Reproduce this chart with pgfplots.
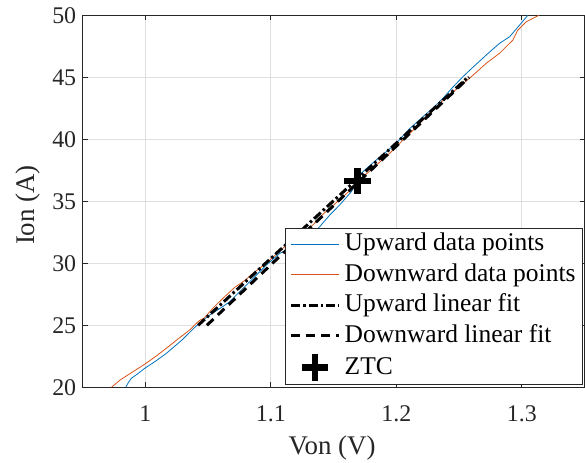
\documentclass[border=0pt]{standalone}
\usepackage{pgfplots}
\pgfplotsset{compat=1.18}
\usepackage{fontspec}
\setmainfont{Liberation Serif}

\definecolor{mblue}{HTML}{0072BD}
\definecolor{morange}{HTML}{D95319}
\definecolor{axgray}{HTML}{262626}
\definecolor{gridgray}{HTML}{DFDFDF}

\pgfplotsset{
  lineleg/.style={legend image code/.code={\draw[##1] (0bp,0bp) -- (48bp,0bp);}},
  plusleg/.style={legend image code/.code={%
      \draw[black, line width=6.5bp] (10.7bp,0bp) -- (37.3bp,0bp)
        (24bp,-13.3bp) -- (24bp,13.3bp);}},
}

\begin{document}
\begin{tikzpicture}
\useasboundingbox (0,0) rectangle (585bp,463bp);
\begin{axis}[
  at={(82.7bp,75.7bp)}, anchor=south west,
  scale only axis, width=501.8bp, height=372bp,
  xmin=0.95, xmax=1.35, ymin=20, ymax=50,
  xtick={1,1.1,1.2,1.3}, xticklabels={1,1.1,1.2,1.3},
  ytick={20,25,30,35,40,45,50}, yticklabels={20,25,30,35,40,45,50},
  grid=major, major grid style={gridgray, line width=0.8bp},
  axis line style={axgray, line width=0.8bp},
  tick style={axgray, line width=0.8bp},
  tick align=inside, major tick length=5bp,
  ticklabel style={font=\fontsize{24}{28}\selectfont, text=axgray},
  xticklabel style={yshift=-15bp},
  yticklabel style={xshift=-3bp},
  xlabel={Von (V)}, ylabel={Ion (A)},
  xlabel style={at={(axis description cs:0.497,-0.1626)}, anchor=center,
    font=\fontsize{27}{32}\selectfont, text=axgray},
  ylabel style={at={(axis description cs:-0.1097,0.49)}, anchor=center,
    font=\fontsize{27}{32}\selectfont, text=axgray},
  legend style={
    at={(rel axis cs:1,0)}, anchor=south east, xshift=-1.5bp, yshift=2.3bp,
    draw=axgray, line width=0.8bp, fill=white,
    font=\fontsize{25.6}{30}\selectfont, text=black,
    inner xsep=4bp, inner ysep=0.5bp, row sep=0bp,
    nodes={text height=19bp, text depth=6bp, inner ysep=2.8bp, inner xsep=3bp},
    /tikz/every odd column/.append style={column sep=1bp},
  },
  legend cell align=left,
]

% upward sweep
\addplot[mblue, line width=0.8bp, lineleg]
coordinates {
(0.9843,20.00) (0.9865,20.40) (0.9888,20.73) (0.9940,21.10) (0.9994,21.53)
(1.0080,22.10) (1.0167,22.74) (1.0290,23.80) (1.0390,24.80) (1.0440,25.25)
(1.0512,25.83) (1.0600,26.40) (1.0672,26.90) (1.0750,27.70) (1.0831,28.52)
(1.0900,29.20) (1.0964,29.86) (1.1070,30.80) (1.1200,31.40) (1.1300,32.10)
(1.1389,32.95) (1.1470,33.90) (1.1548,34.70) (1.1641,35.77) (1.1680,36.40)
(1.1720,37.26) (1.1780,37.80) (1.1840,38.33) (1.1920,39.00) (1.2000,39.68)
(1.2100,40.80) (1.2212,41.82) (1.2290,42.50) (1.2371,43.30) (1.2450,44.20)
(1.2531,45.05) (1.2620,45.90) (1.2717,46.80) (1.2823,47.74) (1.2903,48.27)
(1.2969,49.05) (1.3036,49.85) (1.3048,50.00)
};
\addlegendentry{Upward data points}

% downward sweep
\addplot[morange, line width=0.8bp, lineleg]
coordinates {
(0.9729,20.00) (0.9800,20.60) (0.9901,21.26) (1.0000,21.90) (1.0090,22.55)
(1.0167,23.15) (1.0260,23.90) (1.0353,24.62) (1.0400,25.10) (1.0433,25.40)
(1.0470,25.60) (1.0540,26.40) (1.0618,27.18) (1.0712,28.06) (1.0790,28.60)
(1.0857,29.19) (1.0964,30.00) (1.1050,30.80) (1.1150,31.70) (1.1250,32.50)
(1.1335,33.09) (1.1420,34.00) (1.1500,34.70) (1.1600,35.60) (1.1680,36.30)
(1.1760,37.20) (1.1850,38.00) (1.1947,38.87) (1.2050,39.90) (1.2150,40.90)
(1.2292,42.40) (1.2400,43.40) (1.2504,44.24) (1.2598,45.05) (1.2717,46.13)
(1.2823,46.94) (1.2929,48.00) (1.2969,48.81) (1.3036,49.48) (1.3136,50.00)
};
\addlegendentry{Downward data points}

% linear fit of the upward sweep
\addplot[black, line width=3bp, dash pattern=on 9bp off 3bp on 2.5bp off 3bp, lineleg]
coordinates {(1.042,25.0) (1.256,44.9)};
\addlegendentry{Upward linear fit}

% linear fit of the downward sweep
\addplot[black, line width=3bp, dash pattern=on 9bp off 6bp, lineleg]
coordinates {(1.049,25.0) (1.258,45.0)};
\addlegendentry{Downward linear fit}

% zero temperature coefficient point
\addplot[only marks, black, mark=+, mark size=13.3bp, line width=6.5bp, plusleg]
coordinates {(1.169,36.64)};
\addlegendentry{ZTC}

\end{axis}
\end{tikzpicture}
\end{document}
